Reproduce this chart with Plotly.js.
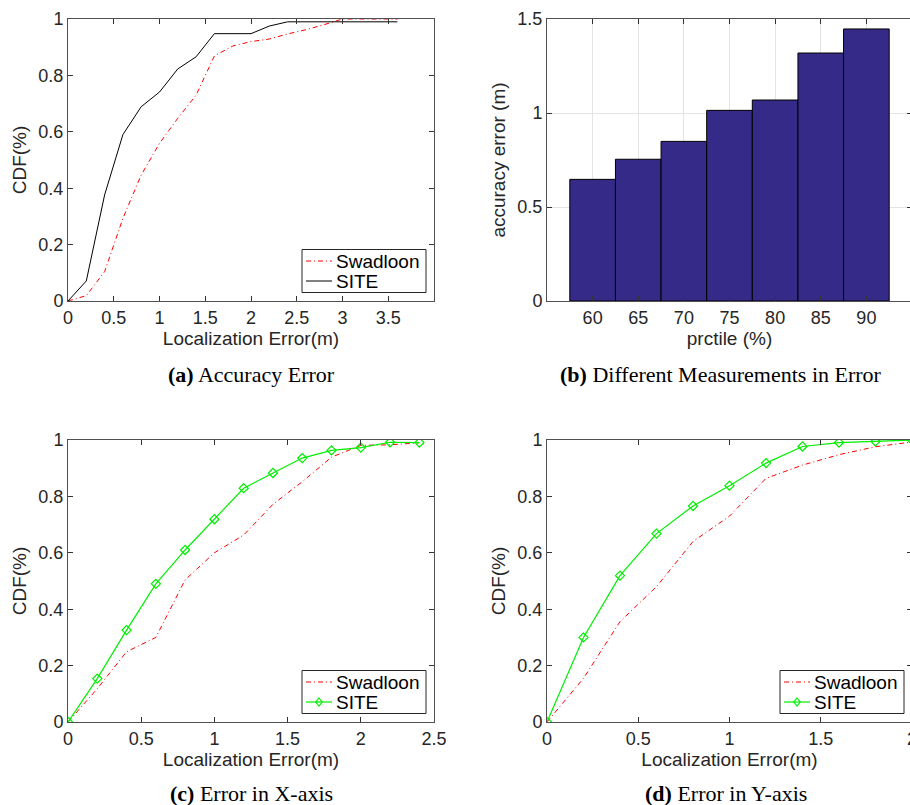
<!DOCTYPE html>
<html>
<head>
<meta charset="utf-8">
<script src="https://cdn.plot.ly/plotly-3.0.1.min.js"></script>
<style>
html,body{margin:0;padding:0;overflow:hidden;background:#fff;}
#chart{width:916px;height:805px;}
</style>
</head>
<body>
<div id="chart"></div>
<script>
// ---- Data ----
const errA = [0,0.2,0.4,0.6,0.8,1.0,1.2,1.4,1.6,1.8,2.0,2.2,2.4,2.6,2.8,3.0,3.2,3.4,3.6];
const siteA = [0,0.071,0.376,0.59,0.689,0.741,0.823,0.866,0.948,0.948,0.948,0.975,0.99,0.99,0.99,0.99,0.99,0.99,0.99];
const swadA = [0,0.019,0.104,0.293,0.447,0.559,0.648,0.73,0.869,0.904,0.92,0.929,0.947,0.962,0.98,1.0,1.0,1.0,1.0];

const pctCats = [60,65,70,75,80,85,90];
const pctErr = [0.647,0.754,0.849,1.014,1.069,1.319,1.447];

const errC = [0,0.2,0.4,0.6,0.8,1.0,1.2,1.4,1.6,1.8,2.0,2.2,2.4];
const siteC = [0,0.154,0.326,0.49,0.61,0.719,0.829,0.883,0.936,0.963,0.973,0.992,0.991];
const swadC = [0,0.118,0.249,0.30,0.504,0.60,0.663,0.772,0.852,0.939,0.981,0.983,0.99];

const errD = [0,0.2,0.4,0.6,0.8,1.0,1.2,1.4,1.6,1.8,2.0];
const siteD = [0,0.30,0.519,0.668,0.766,0.838,0.918,0.977,0.991,0.995,1.0];
const swadD = [0,0.155,0.356,0.48,0.64,0.73,0.864,0.911,0.948,0.976,0.993];

const labels = {swad:'Swadloon', site:'SITE'};
const captions = ['<b>(a)</b> Accuracy Error','<b>(b)</b> Different Measurements in Error','<b>(c)</b> Error in X-axis','<b>(d)</b> Error in Y-axis'];

// ---- Layout helpers ----
const W = 916, H = 805;
const px = v => v / W;
const py = v => 1 - v / H;
const SANS = 'Liberation Sans, Arial, sans-serif';
const SERIF = 'Liberation Serif, Times New Roman, serif';
const TXT = '#262626';
const RED = '#ff0000', GREEN = '#00ee00';
const RED_DASH = '5px,3px,1px,3px';

function ax(extra){
  return Object.assign({
    showline:true, mirror:'ticks', linecolor:'#505050', linewidth:1,
    ticks:'inside', ticklen:5, tickcolor:'#333', tickwidth:1,
    tickfont:{family:SANS,size:18,color:TXT},
    zeroline:false, showgrid:false, fixedrange:true, automargin:false,
    ticklabeloverflow:'allow'
  }, extra);
}
const redLine = {color:RED, width:1, dash:RED_DASH};
const greenLine = {color:GREEN, width:1.2};
const greenMarker = {symbol:'diamond-open', size:7, color:GREEN, line:{color:GREEN, width:1.2}};
const cdfTicks = [0,0.2,0.4,0.6,0.8,1];

const traces = [
  {x:errA, y:swadA, xaxis:'x', yaxis:'y', mode:'lines', name:labels.swad, line:redLine},
  {x:errA, y:siteA, xaxis:'x', yaxis:'y', mode:'lines', name:labels.site, line:{color:'#000', width:1}},
  {x:pctCats, y:pctErr, xaxis:'x2', yaxis:'y2', type:'bar',
   marker:{color:'#352a87', line:{color:'#000', width:1}}},
  {x:errC, y:swadC, xaxis:'x3', yaxis:'y3', mode:'lines', name:labels.swad, line:redLine},
  {x:errC, y:siteC, xaxis:'x3', yaxis:'y3', mode:'lines+markers', name:labels.site, line:greenLine, marker:greenMarker},
  {x:errD, y:swadD, xaxis:'x4', yaxis:'y4', mode:'lines', name:labels.swad, line:redLine},
  {x:errD, y:siteD, xaxis:'x4', yaxis:'y4', mode:'lines+markers', name:labels.site, line:greenLine, marker:greenMarker}
];

const titleFont = {family:SANS, size:19, color:TXT};
const xTitle = {text:'Localization Error(m)', font:titleFont, standoff:4};
const yTitle = {text:'CDF(%)', font:titleFont, standoff:6};

// ---- MATLAB-style legend boxes (drawn as shapes + text) ----
const shapes = [];
const annotations = [];
function addLegend(left, top, siteStyle){
  const w = 124, h = 43;
  shapes.push({type:'rect', xref:'paper', yref:'paper', x0:px(left), x1:px(left+w), y0:py(top+h), y1:py(top),
    line:{color:'#262626', width:1}, fillcolor:'#fff', layer:'above'});
  const r1 = top + 11.5, r2 = top + 31.5;
  shapes.push({type:'line', xref:'paper', yref:'paper', x0:px(left+4), x1:px(left+30), y0:py(r1), y1:py(r1),
    line:{color:RED, width:1, dash:RED_DASH}, layer:'above'});
  const sc = siteStyle === 'black' ? '#000' : GREEN;
  shapes.push({type:'line', xref:'paper', yref:'paper', x0:px(left+4), x1:px(left+30), y0:py(r2), y1:py(r2),
    line:{color:sc, width: siteStyle === 'black' ? 1 : 1.2}, layer:'above'});
  if(siteStyle === 'green'){
    const cx = left + 17, cy = r2;
    const path = 'M' + px(cx) + ',' + py(cy-4) + ' L' + px(cx+3.2) + ',' + py(cy) +
                 ' L' + px(cx) + ',' + py(cy+4) + ' L' + px(cx-3.2) + ',' + py(cy) + ' Z';
    shapes.push({type:'path', xref:'paper', yref:'paper', path:path, line:{color:GREEN, width:1.2}, fillcolor:'rgba(0,0,0,0)', layer:'above'});
  }
  [[labels.swad, r1],[labels.site, r2]].forEach(([t, r]) => {
    annotations.push({text:t, xref:'paper', yref:'paper', x:px(left+32), y:py(r), xanchor:'left', yanchor:'middle',
      showarrow:false, font:{family:SANS, size:19, color:'#000'}});
  });
}
addLegend(302, 249.5, 'black');
addLegend(302, 670.5, 'green');
addLegend(780, 670.5, 'green');

[
  {text:captions[0], x:px(251), y:py(374)},
  {text:captions[1], x:px(721), y:py(374)},
  {text:captions[2], x:px(251), y:py(793)},
  {text:captions[3], x:px(726), y:py(793)}
].forEach(a => annotations.push(Object.assign({xref:'paper', yref:'paper', xanchor:'center', yanchor:'middle',
     showarrow:false, font:{family:SERIF, size:22, color:'#000'}}, a)));

const layout = {
  width:W, height:H, margin:{l:0,r:0,t:0,b:0},
  paper_bgcolor:'#fff', plot_bgcolor:'#fff',
  showlegend:false, bargap:0,
  xaxis: ax({domain:[px(68),px(434)], anchor:'y', range:[0,4], tickvals:[0,0.5,1,1.5,2,2.5,3,3.5], title:xTitle}),
  yaxis: ax({domain:[py(301),py(19)], anchor:'x', range:[0,1], tickvals:cdfTicks, title:yTitle}),
  xaxis2: ax({domain:[px(547),px(912)], anchor:'y2', range:[55,95], tickvals:pctCats,
    showgrid:true, gridcolor:'#e4e4e4', title:{text:'prctile (%)', font:titleFont, standoff:4}}),
  yaxis2: ax({domain:[py(301),py(19)], anchor:'x2', range:[0,1.5], tickvals:[0,0.5,1,1.5],
    showgrid:true, gridcolor:'#e4e4e4', title:{text:'accuracy error (m)', font:titleFont, standoff:6}}),
  xaxis3: ax({domain:[px(68),px(434)], anchor:'y3', range:[0,2.5], tickvals:[0,0.5,1,1.5,2,2.5], title:xTitle}),
  yaxis3: ax({domain:[py(722),py(440)], anchor:'x3', range:[0,1], tickvals:cdfTicks, title:yTitle}),
  xaxis4: ax({domain:[px(547),px(912)], anchor:'y4', range:[0,2], tickvals:[0,0.5,1,1.5,2], title:xTitle}),
  yaxis4: ax({domain:[py(722),py(440)], anchor:'x4', range:[0,1], tickvals:cdfTicks, title:yTitle}),
  shapes: shapes,
  annotations: annotations
};

Plotly.newPlot('chart', traces, layout, {staticPlot:true, displayModeBar:false});
</script>
</body>
</html>
